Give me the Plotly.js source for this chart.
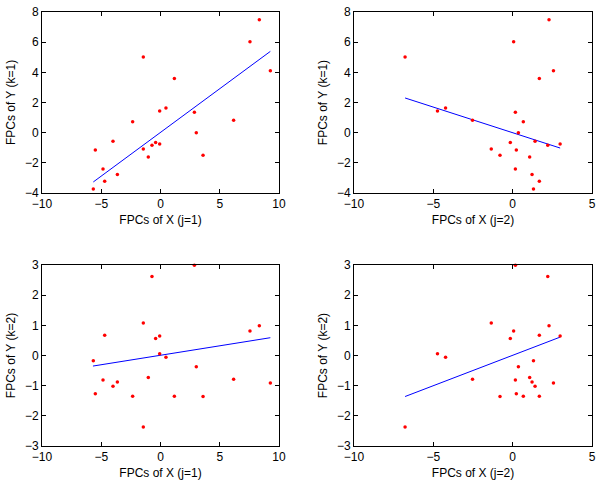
<!DOCTYPE html>
<html>
<head>
<meta charset="utf-8">
<script src="https://cdn.plot.ly/plotly-3.0.1.min.js"></script>
<style>html,body{margin:0;padding:0;background:#fff;}#chart{width:600px;height:481px;}</style>
</head>
<body>
<div id="chart"></div>
<script>
// FPC scores of X (j=1, j=2) and Y (k=1, k=2) for each observation
const xj1 = [8.34, 7.55, 9.27, -1.45, 1.17, 0.46, -0.07, 2.86, -2.35, 6.17, 3.02, -4.01, -0.41, -0.72, -0.07, -1.45, -5.50, -1.03, 3.59, -4.85, -3.64, -4.71, -5.67];
const xj2 = [2.29, 0.06, 2.57, -6.78, 1.68, -4.23, -4.74, 0.17, 0.67, -2.53, 0.36, 1.41, -0.15, 2.21, 2.99, -1.35, 0.23, 1.07, -0.80, 0.17, 1.22, 1.68, 1.31];
const yk1 = [7.49, 6.03, 4.11, 5.02, 3.60, 1.64, 1.44, 1.35, 0.73, 0.82, 0.00, -0.57, -0.66, -0.84, -0.75, -1.08, -1.15, -1.61, -1.50, -2.41, -2.78, -3.23, -3.73];
const yk2 = [0.99, 0.81, -0.91, -2.37, -1.35, -0.06, 0.06, 2.99, -1.35, -0.79, -0.37, -1.02, 0.56, 2.62, 0.65, 1.08, -1.27, -0.73, -1.36, -0.81, -0.88, 0.67, -0.17];

// fitted line end points
const fit11x = [-5.67, 9.27], fit11y = [-3.27, 5.39];
const fit21x = [-6.78, 2.99], fit21y = [2.30, -1.02];
const fit12x = [-5.70, 9.27], fit12y = [-0.35, 0.59];
const fit22x = [-6.78, 2.99], fit22y = [-1.36, 0.61];

const xTitles = ['FPCs of X (j=1)', 'FPCs of X (j=2)', 'FPCs of X (j=1)', 'FPCs of X (j=2)'];
const yTitles = ['FPCs of Y (k=1)', 'FPCs of Y (k=1)', 'FPCs of Y (k=2)', 'FPCs of Y (k=2)'];

const panels = [
  {x: xj1, y: yk1, fx: fit11x, fy: fit11y, ax: ''},
  {x: xj2, y: yk1, fx: fit21x, fy: fit21y, ax: '2'},
  {x: xj1, y: yk2, fx: fit12x, fy: fit12y, ax: '3'},
  {x: xj2, y: yk2, fx: fit22x, fy: fit22y, ax: '4'}
];

const traces = [];
panels.forEach(p => {
  traces.push({x: p.fx, y: p.fy, mode: 'lines', type: 'scatter', xaxis: 'x' + p.ax, yaxis: 'y' + p.ax,
    line: {color: '#0000ff', width: 1}, hoverinfo: 'skip'});
  traces.push({x: p.x, y: p.y, mode: 'markers', type: 'scatter', xaxis: 'x' + p.ax, yaxis: 'y' + p.ax,
    marker: {color: '#ff0000', size: 3.5}, cliponaxis: false});
});

const font = {family: 'Liberation Sans, Arial, sans-serif', size: 12, color: '#000'};
function xa(domain, range, dtick, title, anchor) {
  return {domain, range, dtick, tick0: 0, anchor, showgrid: false, zeroline: false,
    showline: true, linecolor: '#000', linewidth: 1, mirror: 'ticks', ticks: 'inside', ticklen: 4,
    tickcolor: '#000', tickfont: font, title: {text: title, font: font, standoff: 5}};
}
function ya(domain, range, dtick, title, anchor) {
  return {domain, range, dtick, tick0: 0, anchor, showgrid: false, zeroline: false,
    showline: true, linecolor: '#000', linewidth: 1, mirror: 'ticks', ticks: 'inside', ticklen: 4,
    tickcolor: '#000', tickfont: font, title: {text: title, font: font, standoff: 6}};
}
const L = [0.07, 0.465], R = [0.59, 0.9867];
const T = [0.5988, 0.975], B = [0.0728, 0.449];

const layout = {
  width: 600, height: 481, showlegend: false,
  margin: {l: 0, r: 0, t: 0, b: 0},
  paper_bgcolor: '#fff', plot_bgcolor: '#fff',
  xaxis: xa(L, [-10, 10], 5, xTitles[0], 'y'),
  yaxis: ya(T, [-4, 8], 2, yTitles[0], 'x'),
  xaxis2: xa(R, [-10, 5], 5, xTitles[1], 'y2'),
  yaxis2: ya(T, [-4, 8], 2, yTitles[1], 'x2'),
  xaxis3: xa(L, [-10, 10], 5, xTitles[2], 'y3'),
  yaxis3: ya(B, [-3, 3], 1, yTitles[2], 'x3'),
  xaxis4: xa(R, [-10, 5], 5, xTitles[3], 'y4'),
  yaxis4: ya(B, [-3, 3], 1, yTitles[3], 'x4')
};

Plotly.newPlot('chart', traces, layout, {staticPlot: true});
</script>
</body>
</html>
